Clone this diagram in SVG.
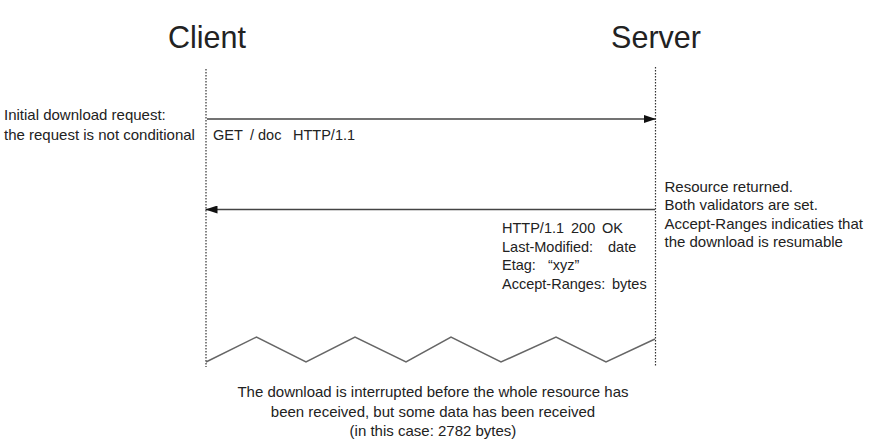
<svg xmlns="http://www.w3.org/2000/svg" width="879" height="447" viewBox="0 0 879 447">
<defs>
<style>
.title{font-family:"Liberation Sans",Arial,sans-serif;font-size:30.5px;fill:#222}
.t{font-family:"Liberation Sans",Arial,sans-serif;font-size:15px;fill:#222}
.lbl{font-family:"Liberation Sans",Arial,sans-serif;font-size:14.5px;fill:#222}
.life{stroke:#333;stroke-width:1.2;stroke-dasharray:1.5 1.5;fill:none}
.msg{stroke:#444;stroke-width:1.5;fill:none}
.zig{stroke:#666;stroke-width:1.5;fill:none;stroke-linejoin:miter}
</style>
<marker id="ah" viewBox="0 0 12 8" refX="12" refY="4" markerWidth="12" markerHeight="8" markerUnits="userSpaceOnUse" orient="auto">
<path d="M0,0 L12,4 L0,8 Z" fill="#111"/>
</marker>
</defs>
<rect width="879" height="447" fill="#fff"/>
<g id="client">
<text class="title" x="207" y="48" text-anchor="middle">Client</text>
<line class="life" x1="206" y1="69" x2="206" y2="367"/>
</g>
<g id="server">
<text class="title" x="656" y="48" text-anchor="middle">Server</text>
<line class="life" x1="655.5" y1="67" x2="655.5" y2="367"/>
</g>
<g id="connectors">
<line class="msg" x1="207" y1="119" x2="656" y2="119" marker-end="url(#ah)"/>
<line class="msg" x1="655" y1="209.5" x2="205.5" y2="209.5" marker-end="url(#ah)"/>
<polyline class="zig" points="206,362 256.5,337 306,362 355,337 406,362 451,337 501,362 556,337 606,362 655,339"/>
</g>
<g id="request-note">
<text class="t" x="4" y="120">Initial download request:</text>
<text class="t" x="4" y="140">the request is not conditional</text>
</g>
<g id="request-label">
<text class="lbl" y="140"><tspan x="213">GET</tspan><tspan x="250">/ doc</tspan><tspan x="293">HTTP/1.1</tspan></text>
</g>
<g id="response-note">
<text class="t" x="664.5" y="191.5">Resource returned.</text>
<text class="t" x="664.5" y="209.5">Both validators are set.</text>
<text class="t" x="664.5" y="228.5">Accept-Ranges indicaties that</text>
<text class="t" x="664.5" y="247">the download is resumable</text>
</g>
<g id="response-label">
<text class="lbl" y="232.5"><tspan x="502">HTTP/1.1</tspan><tspan x="571">200</tspan><tspan x="602">OK</tspan></text>
<text class="lbl" y="251.5"><tspan x="502">Last-Modified:</tspan><tspan x="608">date</tspan></text>
<text class="lbl" y="270"><tspan x="502">Etag:</tspan><tspan x="548">“xyz”</tspan></text>
<text class="lbl" y="288.5"><tspan x="502">Accept-Ranges:</tspan><tspan x="612">bytes</tspan></text>
</g>
<g id="interrupt-note">
<text class="t" x="433" y="397" text-anchor="middle">The download is interrupted before the whole resource has</text>
<text class="t" x="433" y="416.5" text-anchor="middle">been received, but some data has been received</text>
<text class="t" x="433" y="435.5" text-anchor="middle">(in this case: 2782 bytes)</text>
</g>
</svg>
